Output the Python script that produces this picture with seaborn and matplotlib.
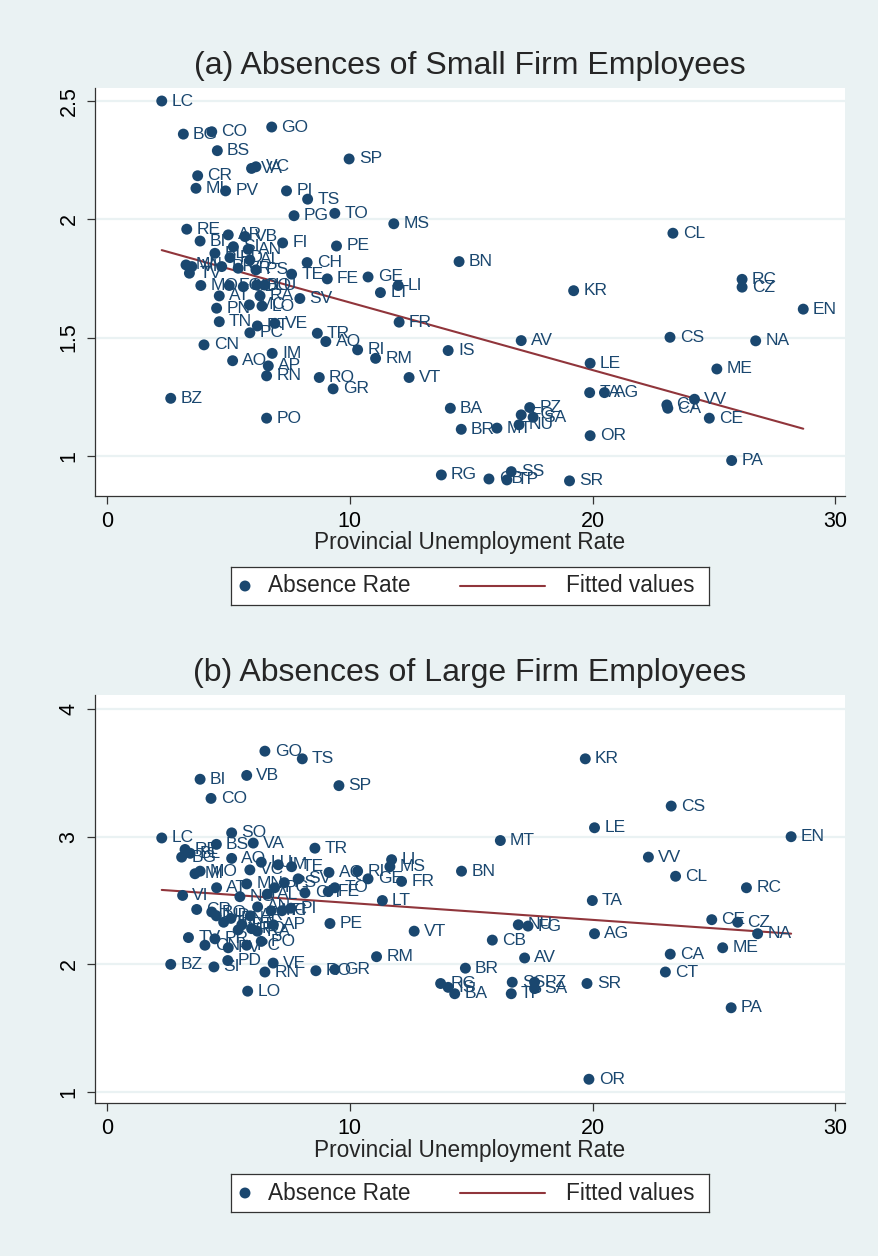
import numpy as np
import pandas as pd
import matplotlib
matplotlib.use("Agg")
import matplotlib.pyplot as plt
import seaborn as sns
from matplotlib.patches import Rectangle
from matplotlib.lines import Line2D

sns.set_theme(style="white")
plt.rcParams['font.family'] = ['Liberation Sans', 'DejaVu Sans']

# ---------------- data: panel (a) small firms ----------------
a_labels = ["LC","BG","CO","GO","BS","SP","VA","VC","CR","MI","PV","PI","TS","PG","TO","MS",
            "FI","PE","CH","TE","FE","GE","LI","LT","SV","FR","VE","TR","AQ","RI","RM","RO",
            "GR","VT","CL","BN","KR","RC","CZ","EN","CS","NA","AV","IS","LE","ME","TA","AG",
            "VV","CT","CA","CE","BA","PZ","SA","FG","BR","MT","NU","OR","PA","RG","CB","SS",
            "TP","SR","RE","BI","AR","VB","SI","AN","BL","PD","AL","MN","VI","TV","PR","VR",
            "PS","MO","FO","UD","BO","LU","AT","RA","PN","MC","LO","TN","PT","PC","CN","AO",
            "IM","AP","RN","BZ","PO"]
a_unemp = [2.25,3.14,4.31,6.78,4.54,9.97,5.95,6.13,3.73,3.66,4.88,7.39,8.26,7.70,9.38,11.81,
           7.23,9.45,8.24,7.60,9.07,10.75,11.99,11.26,7.94,12.03,6.91,8.66,9.01,10.32,11.06,8.74,
           9.31,12.44,23.31,14.50,19.22,26.16,26.16,28.68,23.19,26.72,17.06,14.05,19.90,25.12,19.88,20.49,
           24.20,23.06,23.10,24.81,14.14,17.41,17.55,17.06,14.59,16.06,16.97,19.90,25.73,13.77,15.73,16.65,
           16.47,19.05,3.28,3.83,4.99,5.68,5.20,5.81,4.44,5.06,5.88,3.25,3.49,3.39,4.72,5.40,
           6.13,3.86,5.03,5.61,6.16,6.50,4.62,6.30,4.51,5.86,6.38,4.62,6.19,5.88,3.99,5.17,
           6.80,6.64,6.57,2.62,6.57]
a_absence = [2.50,2.36,2.37,2.39,2.29,2.255,2.215,2.222,2.184,2.131,2.12,2.12,2.085,2.015,2.025,1.981,
             1.90,1.887,1.817,1.768,1.748,1.756,1.72,1.69,1.665,1.565,1.56,1.518,1.483,1.448,1.412,1.331,
             1.283,1.331,1.941,1.821,1.698,1.746,1.713,1.62,1.501,1.486,1.487,1.445,1.391,1.367,1.267,1.267,
             1.239,1.215,1.201,1.159,1.201,1.204,1.163,1.173,1.112,1.117,1.131,1.085,0.98,0.919,0.902,0.933,
             0.898,0.894,1.958,1.908,1.934,1.927,1.884,1.873,1.856,1.838,1.828,1.807,1.80,1.772,1.80,1.793,
             1.786,1.72,1.72,1.715,1.722,1.722,1.676,1.676,1.624,1.638,1.633,1.567,1.549,1.52,1.469,1.402,
             1.433,1.38,1.338,1.243,1.159]

# ---------------- data: panel (b) large firms ----------------
b_labels = ["GO","TS","BI","VB","SP","CO","SO","LC","BS","VA","RE","BG","BL","AO","LU","IM","TE",
            "TR","MI","MO","VC","AQ","RI","LI","MS","GE","FR","AT","MN","PS","SV","PG","TO","FE",
            "CH","LT","VI","NO","AL","CR","BO","PI","AN","MC","FI","AR","PN","TN","UD","PT","FO",
            "AP","PE","RA","VR","TV","PR","CN","PV","PC","PO","PD","VE","RN","LO","BZ","SI","RO",
            "GR","RM","VT","KR","CS","LE","MT","EN","VV","BN","CL","RC","TA","CE","CZ","NA","NU",
            "FG","AG","CB","AV","CA","ME","BR","CT","RG","IS","BA","SS","TP","PZ","SA","SR","PA","OR"]
b_unemp = [6.50,8.04,3.83,5.75,9.55,4.28,5.13,2.25,4.50,6.02,3.21,3.07,3.42,5.13,6.35,7.05,7.60,
           8.56,3.62,3.83,5.88,9.14,10.32,11.72,11.65,10.75,12.13,4.51,5.75,7.30,7.87,6.90,9.38,9.11,
           8.15,11.34,3.11,5.47,6.60,3.69,4.31,7.57,6.20,6.75,7.20,5.90,5.10,4.80,4.50,5.55,5.95,
           6.85,9.18,6.19,5.40,3.35,4.44,4.03,4.99,5.75,6.35,4.97,6.84,6.50,5.79,2.62,4.40,8.60,
           9.38,11.10,12.65,19.70,23.24,20.08,16.20,28.18,22.30,14.60,23.42,26.34,19.99,24.91,25.98,26.80,16.94,
           17.34,20.08,15.87,17.20,23.20,25.36,14.76,23.00,13.74,14.05,14.32,16.69,16.65,17.61,17.61,19.77,25.71,19.85]
b_absence = [3.67,3.61,3.45,3.48,3.40,3.30,3.03,2.99,2.94,2.95,2.90,2.84,2.87,2.83,2.80,2.78,2.765,
             2.91,2.71,2.73,2.74,2.72,2.73,2.82,2.765,2.67,2.65,2.60,2.63,2.64,2.67,2.60,2.60,2.57,
             2.56,2.50,2.54,2.53,2.55,2.43,2.41,2.44,2.45,2.42,2.42,2.38,2.36,2.33,2.38,2.31,2.28,
             2.31,2.32,2.26,2.27,2.21,2.20,2.15,2.13,2.15,2.18,2.03,2.01,1.94,1.79,2.00,1.98,1.95,
             1.96,2.06,2.26,3.61,3.24,3.07,2.97,3.00,2.84,2.73,2.69,2.60,2.50,2.35,2.33,2.24,2.31,
             2.30,2.24,2.19,2.05,2.08,2.13,1.97,1.94,1.85,1.82,1.77,1.86,1.77,1.86,1.81,1.85,1.66,1.10]

titles = ["(a) Absences of Small Firm Employees", "(b) Absences of Large Firm Employees"]
a_yticks = [1, 1.5, 2, 2.5]
a_yticklabels = ["1", "1.5", "2", "2.5"]
b_yticks = [1, 2, 3, 4]
b_yticklabels = ["1", "2", "3", "4"]
xticks = [0, 10, 20, 30]
xlabel = "Provincial Unemployment Rate"
legend_labels = ["Absence Rate", "Fitted values"]

NAVY = "#1a476f"
MAROON = "#90353b"
BGC = "#eaf2f3"
W, H = 879, 1256

fig = plt.figure(figsize=(W / 100, H / 100), dpi=100, facecolor=BGC)


def panel(top_px, labels, xs, ys, title, yticks, yticklabels, ylim):
    bot_px = top_px + 408
    ax = fig.add_axes([95 / W, 1 - bot_px / H, 750 / W, 408 / H])
    ax.set_facecolor("white")
    df = pd.DataFrame({"unemp": xs, "absence": ys, "lab": labels})
    sns.regplot(data=df, x="unemp", y="absence", ax=ax, scatter=False, ci=None,
                truncate=True, line_kws=dict(color=MAROON, lw=1.5, zorder=2))
    sns.scatterplot(data=df, x="unemp", y="absence", ax=ax, color=NAVY, s=62,
                    edgecolor="none", linewidth=0, zorder=3, legend=False)
    for lab, xv, yv in zip(df["lab"], df["unemp"], df["absence"]):
        ax.annotate(lab, (xv, yv), xytext=(7, 0), textcoords="offset points",
                    ha="left", va="center", fontsize=12.5, color=NAVY, zorder=4)
    ax.set_xlim(-0.5, 30.4)
    ax.set_ylim(*ylim)
    ax.set_xticks(xticks)
    ax.set_xticklabels([str(t) for t in xticks], fontsize=15.5)
    ax.set_yticks(yticks)
    ax.set_yticklabels(yticklabels, fontsize=15.5, rotation=90, va="center")
    ax.yaxis.grid(True, color=BGC, lw=1.6, zorder=0)
    ax.xaxis.grid(False)
    ax.set_axisbelow(True)
    for s in ["top", "right"]:
        ax.spines[s].set_visible(False)
    for s in ["left", "bottom"]:
        ax.spines[s].set_color("#333333")
        ax.spines[s].set_linewidth(0.9)
    ax.tick_params(axis="both", which="both", direction="out", length=6, width=0.9,
                   color="#333333", labelcolor="black", pad=5, left=True, bottom=True)
    ax.set_xlabel("")
    ax.set_ylabel("")
    cx = 470 / W
    fig.text(cx, 1 - (top_px - 22) / H, title, ha="center", va="center", fontsize=23)
    fig.text(cx, 1 - (top_px + 455) / H, xlabel, ha="center", va="center", fontsize=16.3)
    # legend box
    lax = fig.add_axes([231 / W, 1 - (top_px + 517) / H, 478 / W, 38 / H])
    lax.set_xlim(0, 478)
    lax.set_ylim(0, 38)
    lax.set_facecolor("white")
    lax.set_xticks([])
    lax.set_yticks([])
    for s in lax.spines.values():
        s.set_color("#333333")
        s.set_linewidth(0.9)
    lax.scatter([14], [19], s=62, color=NAVY, edgecolor="none")
    lax.text(37, 19, legend_labels[0], ha="left", va="center", fontsize=16.3)
    lax.plot([229, 314], [19, 19], color=MAROON, lw=1.5)
    lax.text(335, 19, legend_labels[1], ha="left", va="center", fontsize=16.3)
    return ax


panel(88, a_labels, a_unemp, a_absence, titles[0], a_yticks, a_yticklabels, (0.83, 2.555))
panel(695, b_labels, b_unemp, b_absence, titles[1], b_yticks, b_yticklabels, (0.914, 4.11))

fig.savefig("out.png", dpi=100, facecolor=fig.get_facecolor())
